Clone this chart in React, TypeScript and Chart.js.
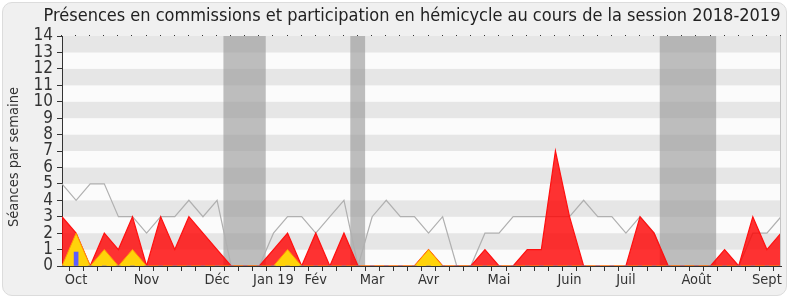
import React, { useEffect, useRef } from 'react';
import { Chart, registerables } from 'chart.js';

Chart.register(...registerables);

// Weekly values (52 weeks, session 2018-2019)
const presenceHemicycle = [5, 4, 5, 5, 3, 3, 2, 3, 3, 4, 3, 4, 0, 0, 0, 2, 3, 3, 2, 3, 4, 0, 3, 4, 3, 3, 2, 3, 0, 0, 2, 2, 3, 3, 3, 3, 3, 4, 3, 3, 2, 3, 2, 0, 0, 0, 0, 0, 0, 2, 2, 3];
const presenceCommission = [3, 2, 0, 2, 1, 3, 0, 3, 1, 3, 2, 1, 0, 0, 0, 1, 2, 0, 2, 0, 2, 0, 0, 0, 0, 0, 1, 0, 0, 0, 1, 0, 0, 1, 1, 7, 3, 0, 0, 0, 0, 3, 2, 0, 0, 0, 0, 1, 0, 3, 1, 2];
const interventions = [0, 2, 0, 1, 0, 1, 0, 0, 0, 0, 0, 0, 0, 0, 0, 0, 1, 0, 0, 0, 0, 0, 0, 0, 0, 0, 1, 0, 0, 0, 0, 0, 0, 0, 0, 0, 0, 0, 0, 0, 0, 0, 0, 0, 0, 0, 0, 0, 0, 0, 0, 0];
const questions = [0, 0.85, 0, 0, 0, 0, 0, 0, 0, 0, 0, 0, 0, 0, 0, 0, 0, 0, 0, 0, 0, 0, 0, 0, 0, 0, 0, 0, 0, 0, 0, 0, 0, 0, 0, 0, 0, 0, 0, 0, 0, 0, 0, 0, 0, 0, 0, 0, 0, 0, 0, 0];

// Vacation periods (in week units)
const vacationStart = [11.45, 20.45, 42.4];
const vacationEnd = [14.45, 21.5, 46.4];

// Month tick labels
const monthWeeks = [1, 6, 11, 15, 18, 22, 26, 31, 36, 40, 45, 50];
const monthLabels = ['Oct', 'Nov', 'Déc', 'Jan 19', 'Fév', 'Mar', 'Avr', 'Mai', 'Juin', 'Juil', 'Août', 'Sept'];

const yTicks = [0, 1, 2, 3, 4, 5, 6, 7, 8, 9, 10, 11, 12, 13, 14];

const titleText = 'Présences en commissions et participation en hémicycle au cours de la session 2018-2019';
const yTitleText = 'Séances par semaine';
const FONT = '"DejaVu Sans Condensed", "DejaVu Sans", sans-serif';

const toPoints = (arr: number[]) => arr.map((y, i) => ({ x: i, y }));

const bgPlugin = {
  id: 'bgPlugin',
  beforeDraw(chart: any) {
    const { ctx, chartArea, scales } = chart;
    const { left, right, top, bottom } = chartArea;
    const y = scales.y;
    const x = scales.x;
    ctx.save();
    for (let k = 0; k < yTicks.length - 1; k++) {
      const v = yTicks[k];
      const y0 = y.getPixelForValue(v);
      const y1 = y.getPixelForValue(yTicks[k + 1]);
      ctx.fillStyle = v % 2 === 0 ? '#fbfbfb' : '#e6e6e6';
      ctx.fillRect(left, y1, right - left, y0 - y1);
    }
    ctx.fillStyle = 'rgba(150,150,150,0.62)';
    for (let k = 0; k < vacationStart.length; k++) {
      const xa = x.getPixelForValue(vacationStart[k]);
      const xb = x.getPixelForValue(vacationEnd[k]);
      ctx.fillRect(xa, top, xb - xa, bottom - top);
    }
    ctx.restore();
  },
  afterDraw(chart: any) {
    const { ctx, chartArea, scales } = chart;
    const { right, top, bottom } = chartArea;
    const x = scales.x;
    ctx.save();
    // right edge line
    ctx.strokeStyle = '#c4c4c4';
    ctx.lineWidth = 1;
    ctx.beginPath();
    ctx.moveTo(Math.round(right) - 0.5, top);
    ctx.lineTo(Math.round(right) - 0.5, bottom);
    ctx.stroke();
    // top dotted ticks
    ctx.fillStyle = '#333';
    for (let i = 0; i < presenceCommission.length; i++) {
      const px = Math.round(x.getPixelForValue(i));
      ctx.fillRect(px - 1, Math.round(top) - 1, 1, 1);
    }
    // title
    ctx.fillStyle = '#222';
    ctx.font = '18px ' + FONT;
    ctx.textAlign = 'center';
    ctx.textBaseline = 'middle';
    ctx.fillText(titleText, 412, 16);
    // y axis title
    ctx.translate(14, 157);
    ctx.rotate(-Math.PI / 2);
    ctx.fillStyle = '#333';
    ctx.font = '14.5px ' + FONT;
    ctx.fillText(yTitleText, 0, 0);
    ctx.restore();
  },
};

export default function App() {
  const ref = useRef<HTMLCanvasElement | null>(null);

  useEffect(() => {
    document.body.style.margin = '0';
    const canvas = ref.current;
    if (!canvas) return;
    const chart = new Chart(canvas, {
      type: 'line',
      data: {
        datasets: [
          {
            type: 'bar',
            label: 'Questions',
            data: toPoints(questions),
            backgroundColor: '#5c5cff',
            borderWidth: 0,
            barThickness: 4,
          } as any,
          {
            label: 'Interventions',
            data: toPoints(interventions),
            borderColor: '#ff9a00',
            backgroundColor: '#ffd30a',
            borderWidth: 1,
            fill: 'origin',
            pointRadius: 0,
            tension: 0,
          },
          {
            label: 'Commissions',
            data: toPoints(presenceCommission),
            borderColor: '#ff1010',
            backgroundColor: 'rgba(255,0,0,0.8)',
            borderWidth: 1.2,
            fill: 'origin',
            pointRadius: 0,
            tension: 0,
          },
          {
            label: 'Hémicycle',
            data: toPoints(presenceHemicycle),
            borderColor: '#b0b0b0',
            borderWidth: 1.2,
            fill: false,
            pointRadius: 0,
            tension: 0,
          },
        ],
      },
      options: {
        animation: false,
        responsive: false,
        devicePixelRatio: 1,
        layout: { padding: { top: 36, right: 9, left: 0, bottom: 0 } },
        plugins: {
          legend: { display: false },
          title: { display: false },
          tooltip: { enabled: false },
        },
        scales: {
          x: {
            type: 'linear',
            min: 0,
            max: presenceCommission.length - 1,
            offset: false,
            afterFit: (s: any) => {
              s.height = 34;
            },
            afterBuildTicks: (s: any) => {
              s.ticks = presenceCommission.map((_, i) => ({ value: i }));
            },
            ticks: {
              autoSkip: false,
              maxRotation: 0,
              minRotation: 0,
              padding: 1,
              color: '#333',
              font: { family: FONT, size: 14.5 },
              callback: (v: any) => {
                const idx = monthWeeks.indexOf(Number(v));
                return idx >= 0 ? monthLabels[idx] : '';
              },
            },
            grid: {
              drawOnChartArea: false,
              drawTicks: true,
              tickLength: 5,
              color: '#333',
            },
            border: { display: true, color: '#333', width: 1 },
          },
          y: {
            type: 'linear',
            min: 0,
            max: 14,
            afterFit: (s: any) => {
              s.width = 62;
            },
            afterBuildTicks: (s: any) => {
              s.ticks = yTicks.map((v) => ({ value: v }));
            },
            ticks: {
              autoSkip: false,
              color: '#333',
              padding: 4,
              font: { family: FONT, size: 17 },
            },
            grid: {
              drawOnChartArea: false,
              drawTicks: true,
              tickLength: 5,
              color: '#333',
            },
            border: { display: true, color: '#333', width: 1 },
          },
        },
      },
      plugins: [bgPlugin],
    });
    return () => chart.destroy();
  }, []);

  return (
    <div style={{ position: 'absolute', left: 0, top: 0, width: 790, height: 300, background: '#fff' }}>
      <div
        style={{
          position: 'absolute',
          left: 2,
          top: 2,
          width: 783,
          height: 292,
          background: '#f0f0f0',
          border: '1px solid #dcdcdc',
          borderRadius: 10,
        }}
      />
      <canvas ref={ref} width={790} height={300} style={{ position: 'absolute', left: 0, top: 0, display: 'block' }} />
    </div>
  );
}
